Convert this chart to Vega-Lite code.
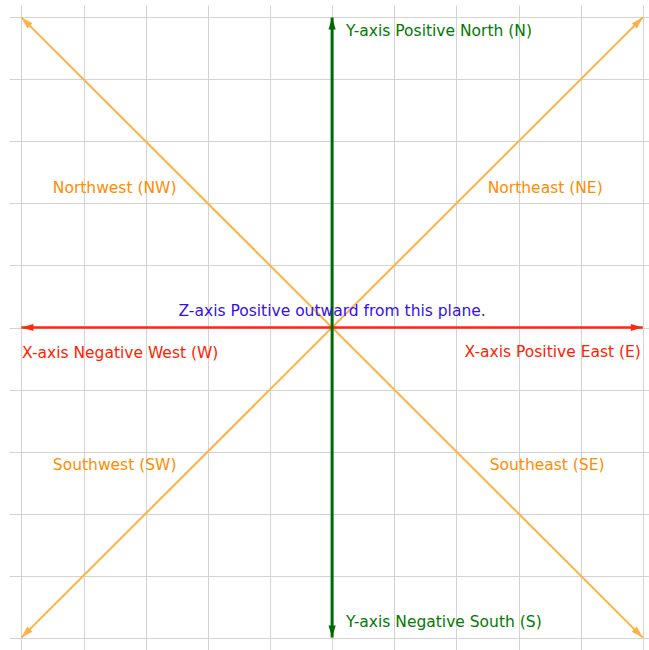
{
  "$schema": "https://vega.github.io/schema/vega-lite/v6.json",
  "width": 640,
  "height": 645,
  "autosize": "none",
  "padding": {"left": 9, "top": 5, "right": 0, "bottom": 0},
  "background": "white",
  "config": {"view": {"stroke": null}},
  "datasets": {
    "segments": [
      {"x": -5, "y": 5, "x2": 5, "y2": -5, "kind": "diag"},
      {"x": -5, "y": -5, "x2": 5, "y2": 5, "kind": "diag"},
      {"x": -5, "y": 0, "x2": 5, "y2": 0, "kind": "xaxis"},
      {"x": 0, "y": -5, "x2": 0, "y2": 5, "kind": "yaxis"}
    ],
    "arrows": [
      {"x": -5, "y": 5, "angle": 315, "kind": "diag"},
      {"x": 5, "y": -5, "angle": 135, "kind": "diag"},
      {"x": -5, "y": -5, "angle": 225, "kind": "diag"},
      {"x": 5, "y": 5, "angle": 45, "kind": "diag"},
      {"x": -5, "y": 0, "angle": 270, "kind": "xaxis"},
      {"x": 5, "y": 0, "angle": 90, "kind": "xaxis"},
      {"x": 0, "y": -5, "angle": 180, "kind": "yaxis"},
      {"x": 0, "y": 5, "angle": 0, "kind": "yaxis"}
    ],
    "leftLabels": [
      {"x": 0.225, "y": 4.78, "text": "Y-axis Positive North (N)", "kind": "ylab"},
      {"x": 0.225, "y": -4.75, "text": "Y-axis Negative South (S)", "kind": "ylab"},
      {"x": -4.99, "y": -0.41, "text": "X-axis Negative West (W)", "kind": "xlab"}
    ],
    "centerLabels": [
      {"x": -3.5, "y": 2.25, "text": "Northwest (NW)", "kind": "dirlab"},
      {"x": 3.43, "y": 2.25, "text": "Northeast (NE)", "kind": "dirlab"},
      {"x": -3.5, "y": -2.22, "text": "Southwest (SW)", "kind": "dirlab"},
      {"x": 3.46, "y": -2.22, "text": "Southeast (SE)", "kind": "dirlab"},
      {"x": 0, "y": 0.27, "text": "Z-axis Positive outward from this plane.", "kind": "zlab"}
    ],
    "rightLabels": [
      {"x": 4.97, "y": -0.4, "text": "X-axis Positive East (E)", "kind": "xlab"}
    ]
  },
  "encoding": {
    "color": {"field": "kind", "type": "nominal",
              "scale": {"domain": ["diag", "xaxis", "yaxis", "ylab", "dirlab", "zlab", "xlab"],
                        "range": ["#ffb142", "#ff2a0a", "#006a00", "#007a00", "#ff8c00", "#3311ee", "#ff2200"]},
              "legend": null}
  },
  "layer": [
    {
      "data": {"name": "segments"},
      "mark": {"type": "rule", "strokeCap": "butt"},
      "encoding": {
        "x": {"field": "x", "type": "quantitative", "scale": {"domain": [-5.2, 5.1], "nice": false, "zero": false},
              "axis": {"values": [-5, -4, -3, -2, -1, 0, 1, 2, 3, 4, 5], "labels": false, "ticks": false, "domain": false, "title": null, "grid": true, "gridColor": "#d3d3d3", "gridWidth": 1, "gridOpacity": 1}},
        "y": {"field": "y", "type": "quantitative", "scale": {"domain": [-5.2, 5.2], "nice": false, "zero": false},
              "axis": {"values": [-5, -4, -3, -2, -1, 0, 1, 2, 3, 4, 5], "labels": false, "ticks": false, "domain": false, "title": null, "grid": true, "gridColor": "#d3d3d3", "gridWidth": 1, "gridOpacity": 1}},
        "x2": {"field": "x2"},
        "y2": {"field": "y2"},
        "strokeWidth": {"field": "kind", "type": "nominal", "scale": {"domain": ["diag", "xaxis", "yaxis"], "range": [2, 3, 3]}, "legend": null}
      }
    },
    {
      "data": {"name": "arrows"},
      "mark": {"type": "point", "shape": "M0,0L-0.6,2L0.6,2Z", "filled": true, "size": 144, "opacity": 1, "strokeWidth": 0},
      "encoding": {
        "x": {"field": "x", "type": "quantitative"},
        "y": {"field": "y", "type": "quantitative"},
        "angle": {"field": "angle", "type": "quantitative", "scale": null}
      }
    },
    {
      "data": {"name": "leftLabels"},
      "mark": {"type": "text", "font": "DejaVu Sans", "fontSize": 15.5, "baseline": "middle", "align": "left"},
      "encoding": {
        "x": {"field": "x", "type": "quantitative"},
        "y": {"field": "y", "type": "quantitative"},
        "text": {"field": "text"}
      }
    },
    {
      "data": {"name": "centerLabels"},
      "mark": {"type": "text", "font": "DejaVu Sans", "fontSize": 15.5, "baseline": "middle", "align": "center"},
      "encoding": {
        "x": {"field": "x", "type": "quantitative"},
        "y": {"field": "y", "type": "quantitative"},
        "text": {"field": "text"}
      }
    },
    {
      "data": {"name": "rightLabels"},
      "mark": {"type": "text", "font": "DejaVu Sans", "fontSize": 15.5, "baseline": "middle", "align": "right"},
      "encoding": {
        "x": {"field": "x", "type": "quantitative"},
        "y": {"field": "y", "type": "quantitative"},
        "text": {"field": "text"}
      }
    }
  ]
}
